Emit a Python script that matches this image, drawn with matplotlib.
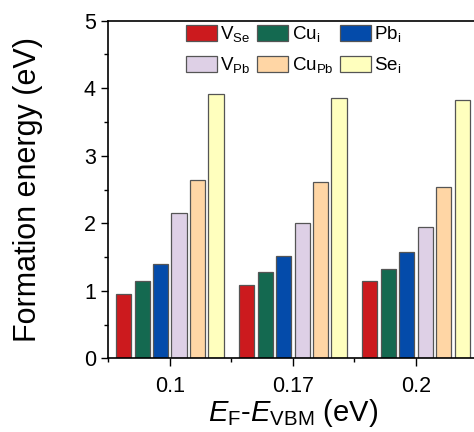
import matplotlib.pyplot as plt
import numpy as np
from matplotlib.ticker import MultipleLocator

plt.rcParams['font.family'] = ['Liberation Sans', 'DejaVu Sans']
plt.rcParams['mathtext.fontset'] = 'custom'
plt.rcParams['mathtext.rm'] = 'Liberation Sans'
plt.rcParams['mathtext.it'] = 'Liberation Sans:italic'

# 费米能级位置
fermi_levels = ['0.1', '0.17', '0.2']
defects = [r'V$_\mathrm{Se}$', r'Cu$_\mathrm{i}$', r'Pb$_\mathrm{i}$',
           r'V$_\mathrm{Pb}$', r'Cu$_\mathrm{Pb}$', r'Se$_\mathrm{i}$']
v_se = [0.95, 1.09, 1.14]
cu_i = [1.14, 1.28, 1.32]
pb_i = [1.39, 1.51, 1.58]
v_pb = [2.15, 2.01, 1.94]
cu_pb = [2.64, 2.61, 2.54]
se_i = [3.92, 3.85, 3.83]
colors = ['#CC1A1E', '#146950', '#044BAA', '#DED0E6', '#FFD6A5', '#FFFFBE']

series = [v_se, cu_i, pb_i, v_pb, cu_pb, se_i]

fig = plt.figure(figsize=(4.74, 4.32), dpi=100)
ax = fig.add_axes([0.2285, 0.1706, 0.779, 0.7814])

x = np.arange(len(fermi_levels))
step = 0.15
width = 0.124
bars = []
for i, (vals, c, lab) in enumerate(zip(series, colors, defects)):
    b = ax.bar(x + (i - 2.5) * step, vals, width=width, color=c,
               edgecolor='#555555', linewidth=0.9, label=lab)
    bars.append(b)

ax.set_xlim(-0.5, 2.5)
ax.set_ylim(0, 5)
ax.set_xticks(x)
ax.set_xticklabels(fermi_levels)
ax.xaxis.set_minor_locator(MultipleLocator(1, offset=0.5))
ax.yaxis.set_major_locator(MultipleLocator(1))
ax.yaxis.set_minor_locator(MultipleLocator(0.5))
ax.tick_params(axis='both', which='major', direction='out', length=5, width=1,
               labelsize=15.5, pad=4)
ax.tick_params(axis='both', which='minor', direction='out', length=3, width=1)
ax.tick_params(axis='x', which='major', length=6, pad=7)
for s in ax.spines.values():
    s.set_linewidth(1.2)

ax.set_ylabel('Formation energy (eV)', fontsize=22, labelpad=29)
ax.set_xlabel(r'$\mathit{E}_\mathrm{F}$-$\mathit{E}_\mathrm{VBM}$ (eV)',
              fontsize=21, labelpad=0)

# 图例按行排列：matplotlib 按列填充，所以重新排序
order = [0, 3, 1, 4, 2, 5]
ax.legend([bars[k] for k in order], [defects[k] for k in order],
          ncol=3, loc='upper left', bbox_to_anchor=(0.21, 0.99), frameon=False,
          fontsize=13.5, handlelength=1.64, handleheight=0.94, columnspacing=0.35,
          handletextpad=0.2, labelspacing=0.6, borderaxespad=0, borderpad=0)

fig.savefig('out.png', dpi=100, facecolor='white')
